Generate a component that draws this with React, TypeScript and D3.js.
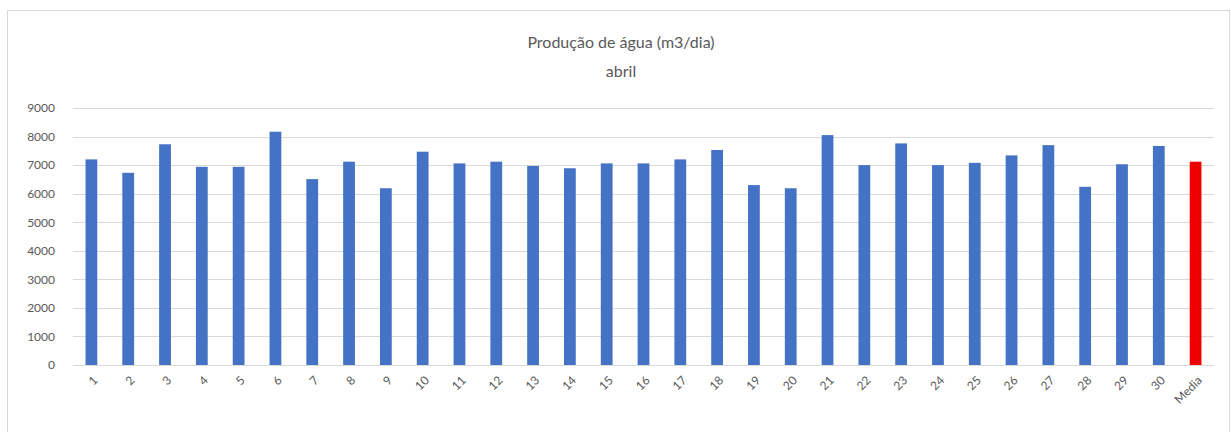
import { useEffect, useRef } from 'react';
import * as d3 from 'd3';

const days = [
  '1', '2', '3', '4', '5', '6', '7', '8', '9', '10',
  '11', '12', '13', '14', '15', '16', '17', '18', '19', '20',
  '21', '22', '23', '24', '25', '26', '27', '28', '29', '30', 'Media',
];
const production = [
  7200, 6730, 7730, 6940, 6940, 8170, 6510, 7120, 6190, 7470,
  7060, 7120, 6970, 6890, 7060, 7060, 7200, 7530, 6300, 6190,
  8050, 7000, 7760, 7000, 7080, 7340, 7700, 6240, 7030, 7670, 7120,
];
const yTicks = [0, 1000, 2000, 3000, 4000, 5000, 6000, 7000, 8000, 9000];
const titleLines = ['Produção de água (m3/dia)', 'abril'];

const width = 1231;
const height = 432;

export default function App() {
  const svgRef = useRef<SVGSVGElement>(null);

  useEffect(() => {
    if (!svgRef.current) return;
    const svg = d3.select(svgRef.current);
    svg.selectAll('*').remove();

    const margin = { top: 108, right: 17, bottom: 67, left: 73 };
    const innerWidth = width - margin.left - margin.right;
    const innerHeight = height - margin.top - margin.bottom;
    const font = 'Lato, "Open Sans", sans-serif';

    // chart frame
    svg.append('rect')
      .attr('x', 7.5)
      .attr('y', 10.5)
      .attr('width', width - 9)
      .attr('height', height - 8)
      .attr('fill', '#fff')
      .attr('stroke', '#d9d9d9');

    // title
    svg.append('g')
      .selectAll('text')
      .data(titleLines)
      .enter()
      .append('text')
      .attr('x', 621)
      .attr('y', (_, i) => 48 + i * 29)
      .attr('text-anchor', 'middle')
      .attr('font-family', font)
      .attr('font-size', 16)
      .attr('fill', '#595959')
      .text(d => d);

    const xScale = d3.scaleBand()
      .domain(days)
      .range([0, innerWidth])
      .paddingInner(0.68)
      .paddingOuter(0.34);

    const yScale = d3.scaleLinear()
      .domain([0, 9000])
      .range([innerHeight, 0]);

    const g = svg.append('g')
      .attr('transform', `translate(${margin.left},${margin.top})`);

    // gridlines
    g.append('g')
      .selectAll('line')
      .data(yTicks)
      .enter()
      .append('line')
      .attr('x1', 0)
      .attr('x2', innerWidth)
      .attr('y1', d => Math.round(yScale(d)) + 0.5)
      .attr('y2', d => Math.round(yScale(d)) + 0.5)
      .attr('stroke', '#d9d9d9')
      .attr('stroke-width', 1);

    // y axis labels
    const yAxis = d3.axisLeft(yScale)
      .tickValues(yTicks)
      .tickSize(0)
      .tickPadding(18)
      .tickFormat(d => String(d));

    g.append('g')
      .call(yAxis)
      .call(sel => sel.select('.domain').remove())
      .selectAll('text')
      .attr('font-family', font)
      .attr('font-size', 12)
      .attr('fill', '#595959');

    // bars
    g.selectAll('rect.bar')
      .data(production)
      .enter()
      .append('rect')
      .attr('class', 'bar')
      .attr('x', (_, i) => xScale(days[i]) as number)
      .attr('y', d => yScale(d))
      .attr('width', xScale.bandwidth())
      .attr('height', d => innerHeight - yScale(d))
      .attr('fill', (_, i) => days[i] === 'Media' ? '#ee0000' : '#4472c4');

    // x axis labels
    g.append('g')
      .attr('transform', `translate(0,${innerHeight})`)
      .selectAll('text')
      .data(days)
      .enter()
      .append('text')
      .attr('transform', d => `translate(${(xScale(d) as number) + xScale.bandwidth() / 2 + 5},${14}) rotate(-45)`)
      .attr('text-anchor', 'end')
      .attr('dominant-baseline', 'middle')
      .attr('font-family', font)
      .attr('font-size', 12)
      .attr('fill', '#595959')
      .text(d => d);
  }, []);

  return (
    <svg
      ref={svgRef}
      width={width}
      height={height}
      style={{ position: 'absolute', top: 0, left: 0, display: 'block', background: '#fff' }}
    />
  );
}
